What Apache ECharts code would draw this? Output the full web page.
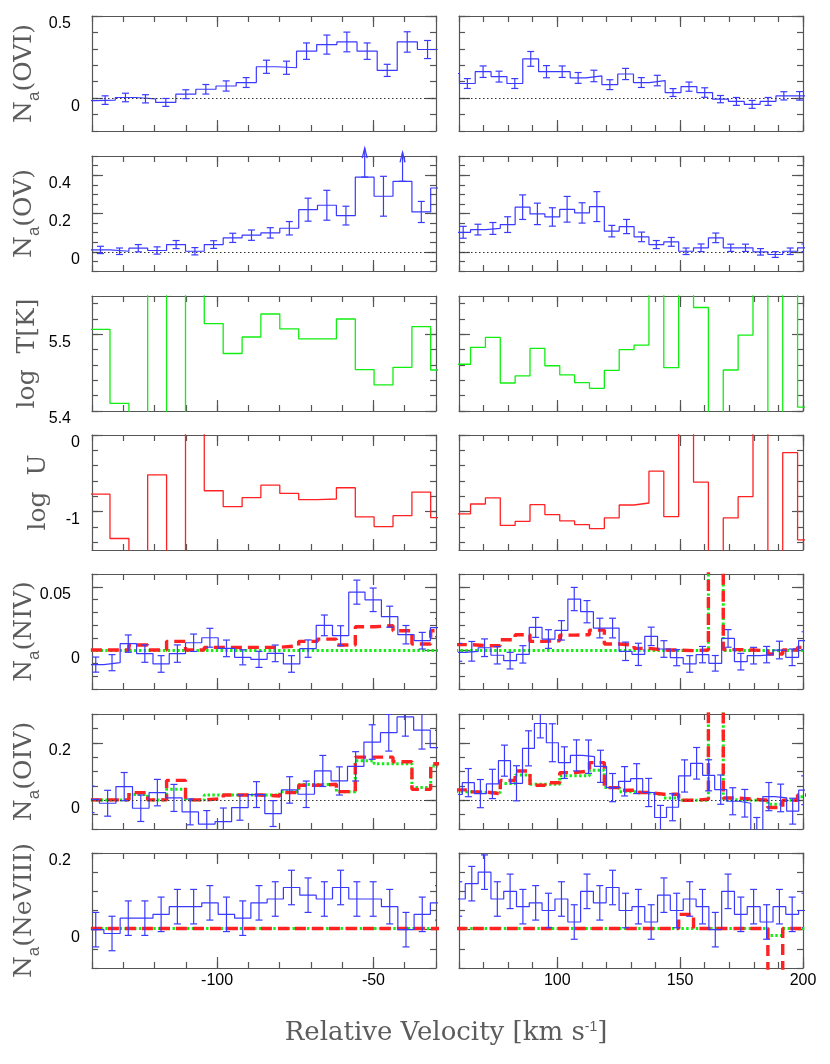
<!DOCTYPE html>
<html>
<head>
<meta charset="utf-8">
<script src="https://cdn.jsdelivr.net/npm/echarts@6/dist/echarts.min.js"></script>
<style>
  html, body { margin: 0; padding: 0; background: #fff; }
  #chart { width: 830px; height: 1064px; }
</style>
</head>
<body>
<div id="chart"></div>
<script>
// ---- bin centres, km/s ----
const binT_L = [-137.3, -131.2, -125.2, -119.2, -113.1, -107.1, -101.1, -95.0, -89.0, -83.0, -76.9, -70.9, -64.9, -58.8, -52.8, -46.8, -40.7, -34.7, -28.7];
const binT_R = [61.7, 67.7, 73.8, 79.8, 85.9, 91.9, 98.0, 104.0, 110.1, 116.1, 122.2, 128.2, 134.3, 140.3, 146.4, 152.4, 158.5, 164.5, 170.6, 176.6, 182.7, 188.7, 194.8, 200.8];
const binOVI_L = [-142.2, -135.8, -129.3, -122.9, -116.4, -110.0, -103.6, -97.1, -90.7, -84.2, -77.8, -71.4, -64.9, -58.5, -52.0, -45.6, -39.2, -32.7];
const binOVI_R = [57.0, 63.4, 69.8, 76.3, 82.7, 89.2, 95.6, 102.0, 108.5, 114.9, 121.4, 127.8, 134.2, 140.7, 147.1, 153.6, 160.0, 166.4, 172.9, 179.3, 185.8, 192.2, 198.6];
const binNIV_L = [-138.8, -133.6, -128.4, -123.1, -117.9, -112.7, -107.5, -102.3, -97.0, -91.8, -86.6, -81.4, -76.2, -70.9, -65.7, -60.5, -55.3, -50.1, -44.8, -39.6, -34.4, -29.2];
const binNIV_R = [59.9, 65.2, 70.4, 75.6, 80.8, 86.0, 91.2, 96.4, 101.7, 106.9, 112.1, 117.3, 122.5, 127.8, 133.0, 138.2, 143.4, 148.6, 153.9, 159.1, 164.3, 169.5, 174.7, 179.9, 185.2, 190.4, 195.6, 200.8];
const binOIV_L = [-140.3, -135.0, -129.7, -124.4, -119.1, -113.8, -108.6, -103.3, -98.0, -92.7, -87.4, -82.1, -76.8, -71.5, -66.2, -60.9, -55.7, -50.4, -45.1, -39.8, -34.5, -29.2];
const binOIV_R = [58.9, 63.8, 68.7, 73.6, 78.5, 83.4, 88.3, 93.1, 98.0, 102.9, 107.8, 112.7, 117.6, 122.5, 127.4, 132.3, 137.2, 142.0, 146.9, 151.8, 156.7, 161.6, 166.5, 171.4, 176.3, 181.2, 186.1, 190.9, 195.8, 200.7];
const binNe_L = [-138.8, -133.6, -128.4, -123.1, -117.9, -112.7, -107.5, -102.3, -97.0, -91.8, -86.6, -81.4, -76.2, -70.9, -65.7, -60.5, -55.3, -50.1, -44.8, -39.6, -34.4, -29.2];
const binNe_R = [59.9, 65.2, 70.4, 75.6, 80.8, 86.0, 91.2, 96.4, 101.7, 106.9, 112.1, 117.3, 122.5, 127.8, 133.0, 138.2, 143.4, 148.6, 153.9, 159.1, 164.3, 169.5, 174.7, 179.9, 185.2, 190.4, 195.6, 200.8];

// ---- O VI ----
const ovi_L = [-0.015, -0.012, 0.004, -0.004, -0.026, 0.024, 0.054, 0.074, 0.095, 0.191, 0.185, 0.286, 0.326, 0.342, 0.286, 0.169, 0.342, 0.296];
const oviErr_L = [null, 0.026, 0.026, 0.025, 0.024, 0.027, 0.029, 0.031, 0.030, 0.040, 0.040, 0.050, 0.058, 0.060, 0.050, 0.037, 0.062, 0.055];
const ovi_R = [0.15, 0.089, 0.161, 0.131, 0.089, 0.239, 0.161, 0.161, 0.123, 0.135, 0.082, 0.147, 0.095, 0.107, 0.034, 0.070, 0.034, -0.006, -0.020, -0.038, -0.020, 0.014, 0.014];
const oviErr_R = [null, 0.030, 0.035, 0.033, 0.030, 0.045, 0.037, 0.035, 0.033, 0.035, 0.030, 0.034, 0.030, 0.032, 0.024, 0.028, 0.029, 0.022, 0.024, 0.024, 0.024, 0.025, 0.026];

// ---- O V ----
const ov_L = [0.010, 0.003, 0.019, 0.007, 0.038, 0.003, 0.038, 0.073, 0.087, 0.099, 0.123, 0.220, 0.243, 0.189, 0.390, 0.290, 0.368, 0.208, 0.333];
const ovErr_L = [0.019, 0.017, 0.019, 0.019, 0.021, 0.019, 0.020, 0.024, 0.027, 0.027, 0.035, 0.060, 0.078, 0.049, null, 0.104, null, 0.055, null];
const ovLimits_L = [14, 16];   // bins drawn as lower limits
const ov_R = [0.102, 0.116, 0.122, 0.142, 0.233, 0.198, 0.182, 0.222, 0.203, 0.236, 0.108, 0.132, 0.078, 0.038, 0.052, 0.003, 0.021, 0.073, 0.021, 0.021, 0.000, -0.014, 0.003, 0.021];
const ovErr_R = [0.031, 0.028, 0.031, 0.041, 0.064, 0.056, 0.048, 0.067, 0.053, 0.078, 0.030, 0.037, 0.025, 0.021, 0.023, 0.017, 0.020, 0.025, 0.019, 0.019, 0.017, 0.015, 0.017, 0.020];

// ---- log T, log U (off-scale bins run out of the frame) ----
const logT_L = [5.5065, 5.410, 5.30, 5.70, 5.30, 5.70, 5.514, 5.475, 5.4965, 5.5265, 5.507, 5.494, 5.494, 5.520, 5.454, 5.434, 5.457, 5.510, 5.4535];
const logT_R = [5.461, 5.483, 5.496, 5.4365, 5.4457, 5.4817, 5.459, 5.447, 5.437, 5.4296, 5.453, 5.480, 5.486, 5.70, 5.4565, 5.70, 5.535, 5.30, 5.4535, 5.499, 5.70, 5.30, 5.70, 5.405];
const logU_L = [-0.77, -1.35, -2.0, -0.52, -2.0, 0.5, -0.727, -0.935, -0.818, -0.654, -0.762, -0.844, -0.835, -0.688, -1.069, -1.195, -1.052, -0.745, -1.078];
const logU_R = [-1.03, -0.90, -0.82, -1.18, -1.126, -0.909, -1.039, -1.121, -1.169, -1.22, -1.082, -0.913, -0.887, -0.472, -1.065, 0.5, -0.615, -2.0, -1.082, -0.805, 0.5, -2.0, -0.229, -1.368];

// ---- N IV ----
const niv_L = [-0.0109, -0.0094, 0.0055, -0.0023, -0.0104, -0.0023, 0.0062, 0.0101, 0.0018, -0.0052, -0.0068, -0.0021, -0.0104, 0.0016, 0.0198, 0.0117, 0.0458, 0.0398, 0.0266, 0.0125, 0.0078, 0.018];
const nivErr_L = [0.0059, 0.0063, 0.0068, 0.0068, 0.0065, 0.0068, 0.0068, 0.0074, 0.0065, 0.0059, 0.0063, 0.0065, 0.0065, 0.0068, 0.0081, 0.0078, 0.0094, 0.0092, 0.0082, 0.0072, 0.0065, 0.0070];
const niv_R = [-0.0013, -0.0005, 0.0023, -0.0036, -0.0078, -0.0029, 0.0182, 0.0091, 0.0159, 0.0404, 0.0305, 0.0177, 0.0177, -0.0005, -0.0029, 0.0112, 0.0013, -0.0055, -0.0104, -0.0031, -0.0099, 0.0096, -0.0086, -0.0039, -0.0031, 0.0005, -0.0052, 0.0078];
const nivErr_R = [0.0070, 0.0077, 0.0069, 0.0068, 0.0065, 0.0068, 0.0078, 0.0073, 0.0076, 0.0091, 0.0087, 0.0077, 0.0077, 0.0072, 0.0087, 0.0072, 0.0065, 0.0063, 0.0065, 0.0064, 0.0061, 0.0069, 0.0065, 0.0065, 0.0064, 0.0069, 0.0065, 0.0070];
const nivRed_L = [0.0005, 0.0005, 0.0044, 0.0005, 0.0073, 0.0005, 0.0026, 0.0026, 0.0026, 0.0026, 0.0039, 0.0073, 0.0090, 0.0044, 0.0187, 0.0195, 0.0156, 0.0052, 0.0156];
const nivGreen_L = [0.0002, 0.0002, 0.0002, 0.0002, 0.0002, 0.0002, 0.0002, 0.0002, 0.0002, 0.0002, 0.0002, 0.0002, 0.0002, 0.0002, 0.0002, 0.0002, 0.0002, 0.0002, 0.0002];
const nivRed_R = [0.0047, 0.0039, 0.0039, 0.0086, 0.0125, 0.0073, 0.0078, 0.0122, 0.0125, 0.0161, 0.0052, 0.0044, 0.0018, 0.0005, 0.0005, 0.0000, 0.0005, 0.5, 0.0008, 0.0005, 0.0000, -0.0026, 0.0005, 0.0026];
const nivGreen_R = [0.0002, 0.0002, 0.0002, 0.0002, 0.0002, 0.0002, 0.0002, 0.0002, 0.0002, 0.0002, 0.0002, 0.0002, 0.0002, 0.0002, 0.0002, 0.0002, 0.0002, 0.5, 0.0002, 0.0002, 0.0002, 0.0002, 0.0002, 0.0002];

// ---- O IV ----
const oiv_L = [0.003, -0.0104, 0.0475, -0.0278, 0.0266, 0.0081, -0.0405, -0.083, -0.074, -0.0255, 0.0197, -0.0463, 0.0359, 0.0208, 0.1019, 0.0671, 0.118, 0.2025, 0.235, 0.290, 0.244, 0.183];
const oivErr_L = [0.046, 0.045, 0.049, 0.046, 0.046, 0.047, 0.045, 0.047, 0.047, 0.044, 0.045, 0.045, 0.046, 0.046, 0.054, 0.049, 0.051, 0.060, 0.064, 0.067, 0.066, 0.060];
const oiv_R = [0.020, 0.0613, 0.0231, 0.0567, 0.1377, 0.059, 0.1806, 0.267, 0.200, 0.1308, 0.156, 0.1516, 0.118, 0.044, 0.066, 0.0752, 0.027, -0.060, -0.0243, 0.0845, 0.1285, 0.0868, 0.037, -0.0035, -0.0104, -0.105, 0.0127, 0.0081, -0.038, 0.035];
const oivErr_R = [0.048, 0.049, 0.049, 0.051, 0.054, 0.061, 0.061, 0.050, 0.066, 0.055, 0.054, 0.058, 0.056, 0.049, 0.051, 0.052, 0.049, 0.042, 0.047, 0.056, 0.055, 0.054, 0.051, 0.047, 0.048, 0.045, 0.049, 0.048, 0.045, 0.050];
const oivRed_L = [0.0012, 0.0012, 0.0266, 0.0012, 0.069, 0.0012, 0.0058, 0.0185, 0.0185, 0.015, 0.0266, 0.052, 0.0555, 0.030, 0.150, 0.150, 0.134, 0.038, 0.127];
const oivGreen_L = [0.0012, 0.0012, 0.020, 0.0012, 0.038, 0.0012, 0.0185, 0.0185, 0.0185, 0.0185, 0.030, 0.055, 0.055, 0.030, 0.137, 0.127, 0.127, 0.044, 0.119];
const oivRed_R = [0.036, 0.029, 0.023, 0.069, 0.102, 0.052, 0.061, 0.096, 0.102, 0.131, 0.044, 0.035, 0.027, 0.021, 0.021, 0.000, 0.0035, 1.0, 0.008, 0.0035, 0.000, -0.025, 0.000, 0.0185];
const oivGreen_R = [0.030, 0.027, 0.027, 0.058, 0.088, 0.056, 0.056, 0.085, 0.085, 0.104, 0.044, 0.030, 0.025, 0.020, 0.008, 0.000, 0.000, 1.0, 0.002, 0.000, 0.000, -0.014, 0.000, 0.012];

// ---- Ne VIII ----
const ne_L = [0.000, -0.010, 0.030, 0.030, 0.040, 0.060, 0.060, 0.070, 0.040, 0.030, 0.070, 0.080, 0.110, 0.090, 0.080, 0.110, 0.080, 0.080, 0.060, 0.000, 0.040, 0.070];
const neErr_L = [0.045, 0.045, 0.045, 0.045, 0.045, 0.045, 0.045, 0.045, 0.045, 0.045, 0.045, 0.045, 0.045, 0.045, 0.045, 0.045, 0.045, 0.045, 0.045, 0.045, 0.045, 0.045];
const ne_R = [0.080, 0.120, 0.150, 0.080, 0.100, 0.060, 0.070, 0.050, 0.080, 0.020, 0.100, 0.070, 0.110, 0.050, 0.060, 0.020, 0.090, 0.050, 0.080, 0.060, 0.000, 0.100, 0.040, 0.060, 0.020, 0.060, 0.040, 0.050];
const neErr_R = [0.045, 0.045, 0.045, 0.045, 0.045, 0.045, 0.045, 0.045, 0.045, 0.045, 0.045, 0.045, 0.045, 0.045, 0.045, 0.045, 0.045, 0.045, 0.045, 0.045, 0.045, 0.045, 0.045, 0.045, 0.045, 0.045, 0.045, 0.045];
const neRed_L = [0.003, 0.003, 0.003, 0.003, 0.003, 0.003, 0.003, 0.003, 0.003, 0.003, 0.003, 0.003, 0.003, 0.003, 0.003, 0.003, 0.003, 0.003, 0.003];
const neGreen_L = [0.003, 0.003, 0.003, 0.003, 0.003, 0.003, 0.003, 0.003, 0.003, 0.003, 0.003, 0.003, 0.003, 0.003, 0.003, 0.003, 0.003, 0.003, 0.003];
const neRed_R = [0.003, 0.003, 0.003, 0.003, 0.003, 0.003, 0.003, 0.003, 0.003, 0.003, 0.003, 0.003, 0.003, 0.003, 0.003, 0.040, 0.003, 0.003, 0.003, 0.003, 0.003, -0.300, 0.003, 0.003];
const neGreen_R = [0.003, 0.003, 0.003, 0.003, 0.003, 0.003, 0.003, 0.003, 0.003, 0.003, 0.003, 0.003, 0.003, 0.003, 0.003, 0.003, 0.003, 0.003, 0.003, 0.003, 0.003, -0.015, 0.003, 0.003];

// ---- axes ----
const xRange = [[-140, -30], [60, 200]];
const xMajor = [[-100, -50], [100, 150, 200]];
const yRows = [
  { min: -0.2, max: 0.5, step: 0.1, major: [0, 0.5] },
  { min: -0.1, max: 0.5, step: 0.05, major: [0, 0.2, 0.4] },
  { min: 5.4, max: 5.55, step: 0.02, major: [5.4, 5.5] },
  { min: -1.5, max: 0, step: 0.2, major: [-1, 0] },
  { min: -0.03, max: 0.06, step: 0.01, major: [0, 0.05] },
  { min: -0.1, max: 0.3, step: 0.05, major: [0, 0.2] },
  { min: -0.1, max: 0.2, step: 0.05, major: [0, 0.2] }
];
const rowTop = [16, 156, 296, 435, 574, 714, 853];
const colLeft = [92, 459];
const PW = 344, PH = 115;

const BLUE = '#3a3aff', GREEN = '#11ee11', RED = '#ff2222', FRAME = '#555';

function ticks(min, max, step) {
  const out = [];
  for (let k = Math.ceil(min / step - 1e-6); k * step <= max + 1e-9; k++) out.push(+(k * step).toFixed(4));
  return out;
}

function edges(bins) {
  const e = [];
  for (let i = 0; i <= bins.length; i++) {
    if (i === 0) e.push(bins[0] - (bins[1] - bins[0]) / 2);
    else if (i === bins.length) e.push(bins[i - 1] + (bins[i - 1] - bins[i - 2]) / 2);
    else e.push((bins[i - 1] + bins[i]) / 2);
  }
  return e;
}

function histo(bins, vals) {
  const e = edges(bins), pts = [];
  vals.forEach((v, i) => { pts.push([e[i], v], [e[i + 1], v]); });
  return pts;
}

const option = { animation: false, grid: [], xAxis: [], yAxis: [], series: [], graphic: [] };
const labelFont = { fontFamily: 'Liberation Sans', fontSize: 16, color: '#000' };

for (let r = 0; r < 7; r++) {
  for (let c = 0; c < 2; c++) {
    const g = r * 2 + c;
    option.grid.push({ left: colLeft[c], top: rowTop[r], width: PW, height: PH });
    const [xmin, xmax] = xRange[c];
    const xMinor = ticks(xmin, xmax, 10);
    ['bottom', 'top'].forEach(pos => {
      [0, 1].forEach(isMajor => {
        const showLab = pos === 'bottom' && isMajor === 0 && r === 6;
        option.xAxis.push({
          type: 'value', gridIndex: g, position: pos, min: xmin, max: xmax,
          axisLine: { show: !isMajor, onZero: false, lineStyle: { color: FRAME, width: 1.2 } },
          axisTick: { show: true, inside: true, length: isMajor ? 11 : 6,
            customValues: isMajor ? xMajor[c] : xMinor, lineStyle: { color: FRAME, width: 1.2 } },
          axisLabel: showLab ? Object.assign({ show: true, customValues: xMajor[c], margin: 5 }, labelFont) : { show: false },
          splitLine: { show: false }
        });
      });
    });
    const yr = yRows[r];
    const yMinor = ticks(yr.min, yr.max, yr.step);
    ['left', 'right'].forEach(pos => {
      [0, 1].forEach(isMajor => {
        const showLab = pos === 'left' && isMajor === 0 && c === 0;
        option.yAxis.push({
          type: 'value', gridIndex: g, position: pos, min: yr.min, max: yr.max,
          axisLine: { show: !isMajor, onZero: false, lineStyle: { color: FRAME, width: 1.2 } },
          axisTick: { show: true, inside: true, length: isMajor ? 11 : 6,
            customValues: isMajor ? yr.major : yMinor, lineStyle: { color: FRAME, width: 1.2 } },
          axisLabel: showLab ? {
            show: true, customValues: yr.major, margin: 12, verticalAlign: 'top',
            formatter: v => (Number.isInteger(v) ? '{i|' : '{d|') + v + '}',
            rich: { i: labelFont, d: Object.assign({ padding: [0, 9, 0, 0] }, labelFont) }
          } : { show: false },
          splitLine: { show: false }
        });
      });
    });
  }
}

function zeroLine() {
  return { silent: true, symbol: 'none', label: { show: false }, animation: false,
    lineStyle: { color: '#333', width: 1, type: [1.5, 2.5] }, data: [{ yAxis: 0 }] };
}

function stepSeries(g, bins, vals, style, z, zero) {
  const s = {
    type: 'line', xAxisIndex: g * 4, yAxisIndex: g * 4, data: histo(bins, vals),
    symbol: 'none', clip: true, silent: true, z: z,
    lineStyle: style
  };
  if (zero) s.markLine = zeroLine();
  return s;
}

function errSeries(g, bins, vals, errs) {
  const data = [];
  bins.forEach((b, i) => { if (errs[i] != null) data.push([b, vals[i], errs[i]]); });
  return {
    type: 'custom', xAxisIndex: g * 4, yAxisIndex: g * 4, data: data, clip: true, silent: true, z: 5,
    renderItem: (params, api) => {
      const x = api.value(0), y = api.value(1), e = api.value(2);
      const lo = api.coord([x, y - e]), hi = api.coord([x, y + e]);
      const st = { stroke: BLUE, lineWidth: 1.2 };
      return { type: 'group', children: [
        { type: 'line', shape: { x1: lo[0], y1: lo[1], x2: hi[0], y2: hi[1] }, style: st },
        { type: 'line', shape: { x1: lo[0] - 3.5, y1: lo[1], x2: lo[0] + 3.5, y2: lo[1] }, style: st },
        { type: 'line', shape: { x1: hi[0] - 3.5, y1: hi[1], x2: hi[0] + 3.5, y2: hi[1] }, style: st }
      ] };
    }
  };
}

function limitSeries(g, bins, vals, idx) {
  return {
    type: 'custom', xAxisIndex: g * 4, yAxisIndex: g * 4, clip: false, silent: true, z: 5,
    data: idx.map(i => [bins[i], vals[i]]),
    renderItem: (params, api) => {
      const p = api.coord([api.value(0), api.value(1)]);
      const tip = p[1] - 29;
      const st = { stroke: BLUE, lineWidth: 1.2, fill: null };
      return { type: 'group', children: [
        { type: 'line', shape: { x1: p[0], y1: p[1], x2: p[0], y2: tip }, style: st },
        { type: 'polyline', shape: { points: [[p[0] - 2.5, tip + 10], [p[0], tip], [p[0] + 2.5, tip + 10]] }, style: st },
        { type: 'line', shape: { x1: p[0] - 3.5, y1: p[1], x2: p[0] + 3.5, y2: p[1] }, style: st }
      ] };
    }
  };
}

const blueStyle = { color: BLUE, width: 1.2 };
const redStyle = { color: RED, width: 3.4, type: [11, 6] };
const greenStyle = { color: GREEN, width: 3, type: [2.4, 2.4] };
const S = option.series;

// row 0: O VI
S.push(stepSeries(0, binOVI_L, ovi_L, blueStyle, 4, true), errSeries(0, binOVI_L, ovi_L, oviErr_L));
S.push(stepSeries(1, binOVI_R, ovi_R, blueStyle, 4, true), errSeries(1, binOVI_R, ovi_R, oviErr_R));
// row 1: O V
S.push(stepSeries(2, binT_L, ov_L, blueStyle, 4, true), errSeries(2, binT_L, ov_L, ovErr_L), limitSeries(2, binT_L, ov_L, ovLimits_L));
S.push(stepSeries(3, binT_R, ov_R, blueStyle, 4, true), errSeries(3, binT_R, ov_R, ovErr_R));
// row 2: log T
S.push(stepSeries(4, binT_L, logT_L, { color: GREEN, width: 1.3 }, 4));
S.push(stepSeries(5, binT_R, logT_R, { color: GREEN, width: 1.3 }, 4));
// row 3: log U
S.push(stepSeries(6, binT_L, logU_L, { color: RED, width: 1.3 }, 4));
S.push(stepSeries(7, binT_R, logU_R, { color: RED, width: 1.3 }, 4));
// row 4: N IV
S.push(stepSeries(8, binT_L, nivGreen_L, greenStyle, 2), stepSeries(8, binT_L, nivRed_L, redStyle, 3));
S.push(stepSeries(8, binNIV_L, niv_L, blueStyle, 4), errSeries(8, binNIV_L, niv_L, nivErr_L));
S.push(stepSeries(9, binT_R, nivGreen_R, greenStyle, 2), stepSeries(9, binT_R, nivRed_R, redStyle, 3));
S.push(stepSeries(9, binNIV_R, niv_R, blueStyle, 4), errSeries(9, binNIV_R, niv_R, nivErr_R));
// row 5: O IV
S.push(stepSeries(10, binT_L, oivGreen_L, greenStyle, 2, true), stepSeries(10, binT_L, oivRed_L, redStyle, 3));
S.push(stepSeries(10, binOIV_L, oiv_L, blueStyle, 4), errSeries(10, binOIV_L, oiv_L, oivErr_L));
S.push(stepSeries(11, binT_R, oivGreen_R, greenStyle, 2, true), stepSeries(11, binT_R, oivRed_R, redStyle, 3));
S.push(stepSeries(11, binOIV_R, oiv_R, blueStyle, 4), errSeries(11, binOIV_R, oiv_R, oivErr_R));
// row 6: Ne VIII
S.push(stepSeries(12, binT_L, neGreen_L, greenStyle, 2), stepSeries(12, binT_L, neRed_L, redStyle, 3));
S.push(stepSeries(12, binNe_L, ne_L, blueStyle, 4), errSeries(12, binNe_L, ne_L, neErr_L));
S.push(stepSeries(13, binT_R, neGreen_R, greenStyle, 2), stepSeries(13, binT_R, neRed_R, redStyle, 3));
S.push(stepSeries(13, binNe_R, ne_R, blueStyle, 4), errSeries(13, binNe_R, ne_R, neErr_R));

// ---- axis titles ----
const serif = 'DejaVu Serif';
const titleRich = {
  n: { fontFamily: serif, fontSize: 25, lineHeight: 31, verticalAlign: 'top', fill: '#5c5c5c' },
  s: { fontFamily: 'Liberation Sans', fontSize: 17, lineHeight: 18, verticalAlign: 'bottom', fill: '#5c5c5c' },
  x: { fontFamily: serif, fontSize: 26, lineHeight: 31, verticalAlign: 'top', fill: '#5c5c5c' },
  p: { fontFamily: 'Liberation Sans', fontSize: 14, lineHeight: 16, verticalAlign: 'top', fill: '#5c5c5c' }
};
const yTitles = [
  ['{n|N}{s|a}{n|(OVI)}', 27],
  ['{n|N}{s|a}{n|(OV)}', 27],
  ['{n|log  T[K]}', 30],
  ['{n|log  U}', 41],
  ['{n|N}{s|a}{n|(NIV)}', 27],
  ['{n|N}{s|a}{n|(OIV)}', 27],
  ['{n|N}{s|a}{n|(NeVIII)}', 27]
];
yTitles.forEach((t, r) => {
  option.graphic.push({
    type: 'text', x: t[1], y: rowTop[r] + PH / 2, rotation: Math.PI / 2, silent: true,
    style: { text: t[0], rich: titleRich, align: 'center', verticalAlign: 'middle', fill: '#5c5c5c' }
  });
});
option.graphic.push({
  type: 'text', x: 446, y: 1036, silent: true,
  style: { text: '{x|Relative Velocity [km s}{p|-1}{x|]}', rich: titleRich, align: 'center', verticalAlign: 'middle', fill: '#5c5c5c' }
});

const chart = echarts.init(document.getElementById('chart'));
chart.setOption(option);
</script>
</body>
</html>
